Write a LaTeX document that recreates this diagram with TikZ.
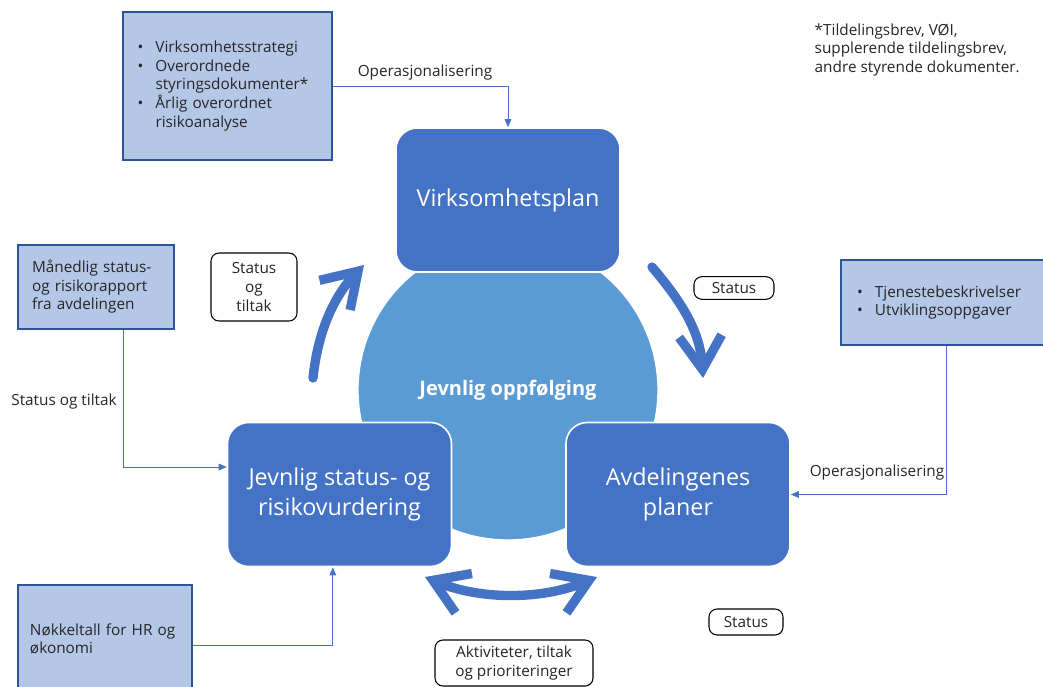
\documentclass[tikz,border=0pt]{standalone}
\usepackage{fontspec}
\setmainfont{Open Sans}
\usetikzlibrary{arrows.meta}
\definecolor{mainblue}{HTML}{4472C4}
\definecolor{circblue}{HTML}{5B9BD5}
\definecolor{lightblue}{HTML}{B4C7E7}
\definecolor{darkblue}{HTML}{2F5597}
\newcommand{\blt}[1]{\makebox[13.5pt][l]{\textbullet}#1}
\newcommand{\hang}{\hspace*{13.5pt}}

\begin{document}
\begin{tikzpicture}[x=0.75pt, y=-0.75pt]
        \tikzstyle{every node}=[font=\fontsize{11.5}{13.9}\selectfont, text=black!85]
        \tikzstyle{mainbox}=[rectangle, rounded corners=16pt, fill=mainblue, draw=white, line width=1.2pt, minimum width=168pt, minimum height=108pt, align=center, text=white, font=\fontsize{17.5}{22.5}\selectfont]
        \tikzstyle{infobox}=[rectangle, fill=lightblue, draw=darkblue, line width=1pt, align=left]
        \tikzstyle{tagbox}=[rectangle, rounded corners=6pt, draw=black, line width=0.8pt, fill=white, align=center]
        \tikzstyle{link}=[draw=mainblue, line width=0.6pt, -{Triangle[length=6pt,width=5pt]}]
        \tikzstyle{bigarrow}=[draw=mainblue, line width=7pt, line cap=round, line join=round]
        \useasboundingbox (0,0) rectangle (1043,686);
        \node [circle, fill=circblue, draw=white, line width=1pt, minimum size=225pt, text=white, font=\fontsize{15}{18}\bfseries] (oppf) at (508,390) {\raisebox{-3pt}{Jevnlig oppfølging}};
        \node [mainbox] (plan) at (508,200) {\raisebox{-2pt}{Virksomhetsplan}};
        \node [mainbox] (vurd) at (339.5,494.5) {Jevnlig status- og\\risikovurdering};
        \node [mainbox] (avd) at (678,494.5) {Avdelingenes\\planer};
        \node [infobox, minimum width=156.75pt, minimum height=111pt, text width=135pt] (strat) at (227.5,86) {\blt{Virksomhetsstrategi}\\\blt{Overordnede}\\\hang styringsdokumenter*\\\blt{Årlig overordnet}\\\hang risikoanalyse};
        \node [infobox, minimum width=117pt, minimum height=63pt, text width=96pt] (mnd) at (96,287) {Månedlig status-\\og risikorapport\\fra avdelingen};
        \node [infobox, minimum width=130.5pt, minimum height=81pt, text width=112.5pt] (nok) at (105,639) {Nøkkeltall for HR og\\økonomi};
        \node [infobox, minimum width=157.5pt, minimum height=63.75pt, text width=133.5pt] (tj) at (946,302.5) {\blt{Tjenestebeskrivelser}\\\blt{Utviklingsoppgaver}};
        \node [anchor=north west, align=left] (note) at (810,19) {*Tildelingsbrev, VØI,\\supplerende tildelingsbrev,\\andre styrende dokumenter.};
        \node [tagbox, minimum width=64.5pt, minimum height=51pt, inner sep=1pt] (tag1) at (254,287) {Status\\og\\tiltak};
        \node [tagbox, minimum width=60pt, minimum height=17pt, inner sep=1pt] (tag2) at (734,288) {Status};
        \node [tagbox, minimum width=55.5pt, minimum height=19.5pt, inner sep=1pt] (tag3) at (746,622) {Status};
        \node [tagbox, minimum width=118.5pt, minimum height=34.5pt, inner sep=1pt] (tag4) at (514,663) {Aktiviteter, tiltak\\og prioriteringer};
        \node (lab1) at (425,73) {Operasjonalisering};
        \node (lab2) at (64,402) {Status og tiltak};
        \node (lab3) at (877,473) {Operasjonalisering};
        \draw [link] (strat.east) -| (plan.north);
        \draw [link] ([xshift=20.25pt]mnd.south) |- ([yshift=20.6pt]vurd.west);
        \draw [link] ([yshift=-4.5pt]nok.east) -| ([xshift=-5pt]vurd.south);
        \draw [link] (tj.south) |- (avd.east);
        \coordinate (upS) at (313,378);
        \coordinate (upE) at (364,265);
        \coordinate (dnS) at (652,267);
        \coordinate (dnE) at (703,378);
        \coordinate (lrS) at (425,577);
        \coordinate (lrE) at (597,577);
        \draw [bigarrow, -{Straight Barb[length=25pt,width=32pt]}] (upS) .. controls (318,330) and (335,295) .. (upE);
        \draw [bigarrow, -{Straight Barb[length=25pt,width=32pt]}] (dnS) .. controls (680,300) and (700,330) .. (dnE);
        \draw [bigarrow, {Straight Barb[length=25pt,width=32pt]}-{Straight Barb[length=25pt,width=32pt]}] (lrS) .. controls (480,600) and (542,600) .. (lrE);
\end{tikzpicture}
\end{document}
